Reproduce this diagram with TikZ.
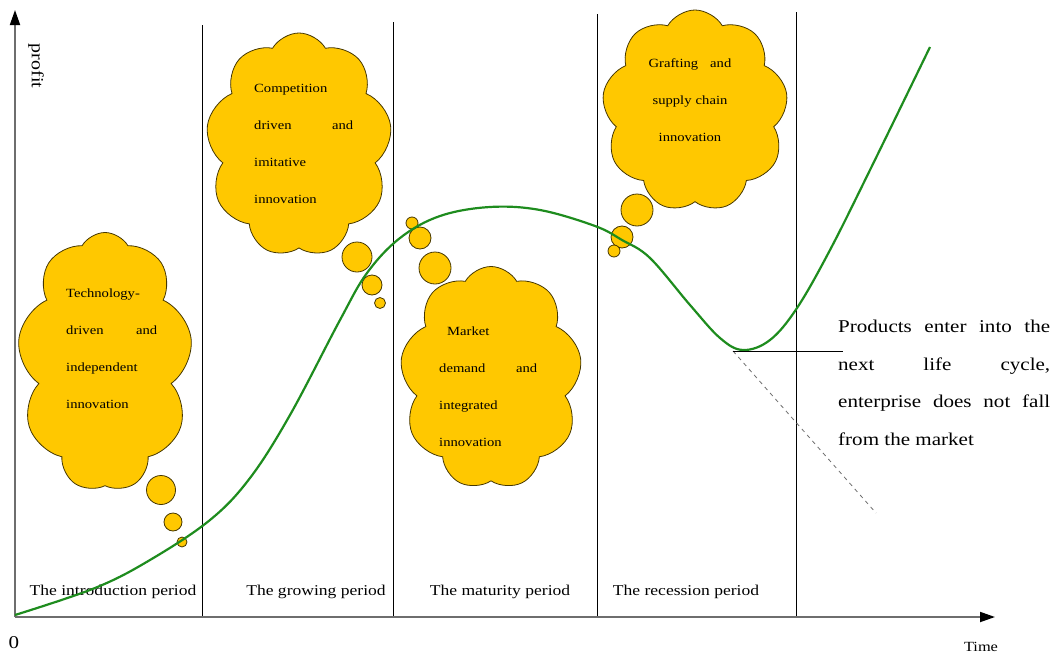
\documentclass[tikz,border=0pt]{standalone}
\usepackage{fontspec}
\setmainfont[FakeStretch=1.17]{Liberation Serif}
\usetikzlibrary{shapes.symbols,arrows.meta}
\definecolor{cloudfill}{RGB}{255,200,0}
\definecolor{cloudline}{RGB}{70,55,0}
\definecolor{curvegreen}{RGB}{30,140,30}
\definecolor{axisgray}{RGB}{110,110,110}
\begin{document}
\begin{tikzpicture}[x=1pt,y=-1pt,
  cloudshape/.style={cloud, cloud puffs=9, cloud puff arc=120, cloud ignores aspect,
    draw=cloudline, fill=cloudfill, line width=0.8pt, inner sep=0pt},
  bubble/.style={circle, draw=cloudline, fill=cloudfill, line width=0.8pt, inner sep=0pt},
  cloudtext/.style={anchor=north west, inner sep=0pt, align=left,
    font=\fontsize{12.5}{37}\selectfont},
  period/.style={anchor=base, inner sep=0pt, font=\fontsize{15}{18}\selectfont},
  divider/.style={line width=1pt, black},
  axisline/.style={line width=1.8pt, axisgray, -{Triangle[length=15pt,width=10pt]}, arrows={[color=black]}},
  lifecurve/.style={line width=2.2pt, curvegreen},
  guide/.style={line width=0.8pt, axisgray, dashed, dash pattern=on 4pt off 4pt}
]
\useasboundingbox (0,0) rectangle (1052,653);

% dividers
\coordinate (d1t) at (202,25);  \coordinate (d1b) at (202,617);
\coordinate (d2t) at (393,22);  \coordinate (d2b) at (393,617);
\coordinate (d3t) at (597,14);  \coordinate (d3b) at (597,617);
\coordinate (d4t) at (796,12);  \coordinate (d4b) at (796,617);
\draw[divider] (d1t) -- (d1b);
\draw[divider] (d2t) -- (d2b);
\draw[divider] (d3t) -- (d3b);
\draw[divider] (d4t) -- (d4b);

% axes
\coordinate (O) at (15,617);
\coordinate (ytip) at (15,10);
\coordinate (xtip) at (995,617);
\draw[axisline] (O) -- (ytip);
\draw[axisline] (O) -- (xtip);
\node[font=\fontsize{17}{20}\selectfont, rotate=-90] (profit) at (36,66) {profit};
\node[font=\fontsize{18}{20}\selectfont] (zero) at (14,643) {0};
\node[font=\fontsize{14}{16}\selectfont, anchor=base] (time) at (981,651) {Time};

% period labels
\node[period] (p1) at (113,595) {The introduction period};
\node[period] (p2) at (316,595) {The growing period};
\node[period] (p3) at (500,595) {The maturity period};
\node[period] (p4) at (686,595) {The recession period};

% clouds
\node[cloudshape, minimum width=175pt, minimum height=259pt] (c1) at (105,362) {};
\node[bubble, minimum size=29pt] (c1a) at (161,490) {};
\node[bubble, minimum size=18pt] (c1b) at (173,522) {};
\node[bubble, minimum size=10pt] (c1c) at (182,542) {};
\node[cloudtext, text width=91pt] (t1) at (66,289)
  {Technology-\\ driven\hfill and\\ independent\\ innovation};

\node[cloudshape, minimum width=186pt, minimum height=224pt] (c2) at (299,145) {};
\node[bubble, minimum size=30pt] (c2a) at (357,257) {};
\node[bubble, minimum size=20pt] (c2b) at (372,285) {};
\node[bubble, minimum size=11pt] (c2c) at (380,303) {};
\node[cloudtext, text width=99pt] (t2) at (254,84)
  {Competition\\ driven\hfill and\\ imitative\\ innovation};

\node[cloudshape, minimum width=182pt, minimum height=223pt] (c3) at (491,378) {};
\node[bubble, minimum size=32pt] (c3a) at (435,268) {};
\node[bubble, minimum size=22pt] (c3b) at (420,238) {};
\node[bubble, minimum size=12pt] (c3c) at (412,223) {};
\node[cloudtext, text width=98pt] (t3) at (439,327)
  {\hspace*{8pt}Market\\ demand\hfill and\\ integrated\\ innovation};

\node[cloudshape, minimum width=186pt, minimum height=202pt] (c4) at (695,111) {};
\node[bubble, minimum size=32pt] (c4a) at (637,210) {};
\node[bubble, minimum size=22pt] (c4b) at (622,237) {};
\node[bubble, minimum size=12pt] (c4c) at (614,251) {};
\node[cloudtext, text width=90pt, align=center, anchor=north] (t4) at (690,58)
  {Grafting\hspace{12pt}and\\ supply chain\\ innovation};

% life-cycle curve
\draw[lifecurve] plot[smooth, tension=0.6] coordinates {(15,615) (95,588) (150,560)
  (210,520) (250,478) (290,415) (340,320) (367,273) (400,238) (440,216) (490,207)
  (540,210) (595,226) (622,240) (650,258) (690,305) (720,338) (743,350) (770,340)
  (797,308) (830,250) (870,170) (930,47)};

% decline guide and marker
\coordinate (m) at (733,351);
\coordinate (mend) at (843,351);
\coordinate (dend) at (876,513);
\draw[guide] (m) -- (dend);
\draw[line width=1pt, black] (m) -- (mend);

\node[anchor=north west, inner sep=0pt, text width=212pt, align=justify,
  font=\fontsize{18}{37.5}\selectfont] (note) at (838,320)
  {Products enter into the\linebreak next life cycle,\linebreak enterprise does not fall\linebreak from the market};
\end{tikzpicture}
\end{document}
